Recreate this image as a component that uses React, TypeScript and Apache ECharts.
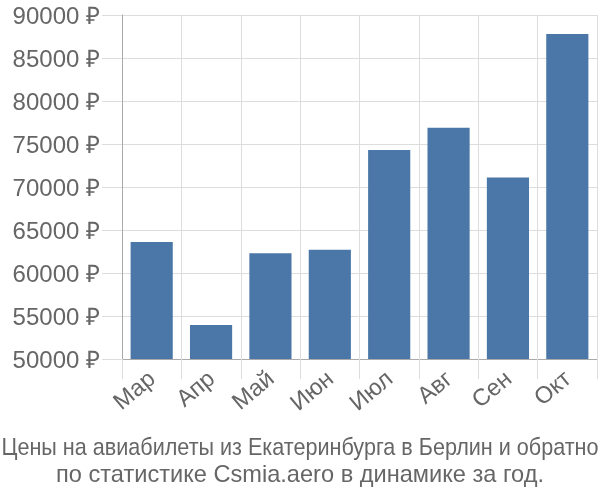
import React, { useEffect, useRef } from "react";
import * as echarts from "echarts";

const categories = ["Мар", "Апр", "Май", "Июн", "Июл", "Авг", "Сен", "Окт"];
const prices = [63600, 53950, 62300, 62700, 74300, 76900, 71100, 87800];
const titleLines = [
  "Цены на авиабилеты из Екатеринбурга в Берлин и обратно",
  "по статистике Csmia.aero в динамике за год.",
];

export default function App() {
  const ref = useRef<HTMLDivElement>(null);
  useEffect(() => {
    if (!ref.current) return;
    const chart = echarts.init(ref.current, undefined, { renderer: "svg" });
    const titleStyle = {
      fontFamily: "Liberation Sans",
      fontSize: 23.6,
      fill: "#666",
      align: "center",
      verticalAlign: "middle",
    };
    chart.setOption({
      animation: false,
      graphic: [
        {
          type: "text",
          x: 300,
          y: 447,
          scaleX: 0.915,
          style: { ...titleStyle, text: titleLines[0] },
        },
        {
          type: "text",
          x: 300,
          y: 474,
          style: { ...titleStyle, text: titleLines[1] },
        },
      ],
      grid: { left: 122, right: 3, top: 15, bottom: 141 },
      xAxis: {
        type: "category",
        data: categories,
        axisLine: { show: true, lineStyle: { color: "#aaa" } },
        axisTick: { show: true, length: 20, lineStyle: { color: "#ddd" } },
        splitLine: { show: true, lineStyle: { color: "#ddd" } },
        axisLabel: {
          rotate: 40,
          fontFamily: "Liberation Sans",
          fontSize: 23.5,
          color: "#666",
          margin: 16,
        },
      },
      yAxis: {
        type: "value",
        min: 50000,
        max: 90000,
        interval: 5000,
        axisLine: { show: true, lineStyle: { color: "#aaa" } },
        axisTick: { show: true, length: 20, lineStyle: { color: "#ddd" } },
        splitLine: { show: true, lineStyle: { color: "#ddd" } },
        axisLabel: {
          formatter: (v: number) => v + " ₽",
          fontFamily: "Liberation Sans",
          fontSize: 24,
          color: "#666",
          margin: 22,
        },
      },
      series: [
        {
          type: "bar",
          data: prices,
          barWidth: "71%",
          itemStyle: { color: "#4a77a8" },
        },
      ],
    });
    return () => chart.dispose();
  }, []);
  return (
    <div
      ref={ref}
      style={{ position: "fixed", left: 0, top: 0, width: 600, height: 500 }}
    />
  );
}
